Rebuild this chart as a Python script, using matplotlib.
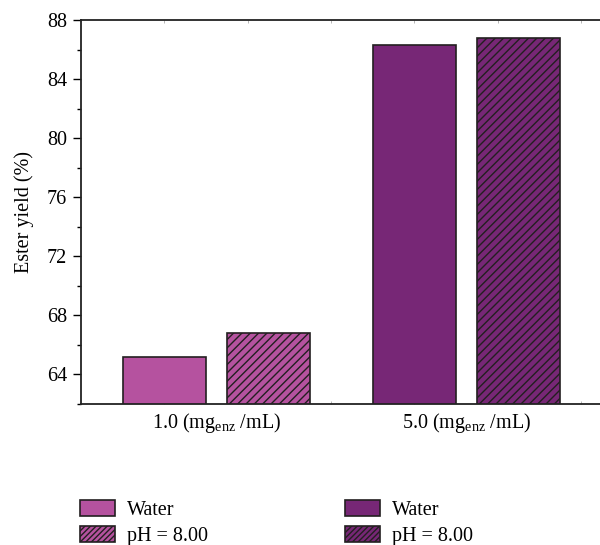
import matplotlib
matplotlib.use("Agg")
import matplotlib.pyplot as plt
from matplotlib.patches import Patch
from matplotlib.ticker import MultipleLocator

plt.rcParams['font.family'] = ['Liberation Serif', 'DejaVu Serif']
plt.rcParams['mathtext.fontset'] = 'custom'
plt.rcParams['mathtext.rm'] = 'Liberation Serif'
plt.rcParams['mathtext.it'] = 'Liberation Serif'
plt.rcParams['hatch.linewidth'] = 1.0

# Data
categories = ["1.0 (mg$_{\\rm enz}$ /mL)", "5.0 (mg$_{\\rm enz}$ /mL)"]
series_labels = ["Water", "pH = 8.00"]
water = [65.2, 86.3]
ph8 = [66.8, 86.8]

light = '#B5529F'
dark = '#772776'
edge = '#231F20'
group_colors = [light, dark]
FS = 14.5

fig = plt.figure(figsize=(6.0, 5.45), dpi=100)
ax = fig.add_axes([81/600, 1 - 404/545, 1 - 81/600, (404-20)/545])

group_centers = [1.625, 4.625]
offset = 0.625
width = 1.0
for i, c in enumerate(group_centers):
    ax.bar(c - offset, water[i], width=width, bottom=0, color=group_colors[i],
           edgecolor=edge, linewidth=1.2, zorder=2)
    ax.bar(c + offset, ph8[i], width=width, bottom=0, color=group_colors[i],
           edgecolor=edge, linewidth=1.2, hatch='////', zorder=2)

ax.set_ylim(62, 88)
ax.set_xlim(0, 6.23)
ax.yaxis.set_minor_locator(MultipleLocator(2))
ax.set_yticks([64, 68, 72, 76, 80, 84, 88])
ax.tick_params(axis='y', which='major', direction='out', length=6, width=1.0,
               labelsize=FS, pad=4)
ax.tick_params(axis='y', which='minor', direction='out', length=3, width=1.0)

ax.set_xticks(group_centers)
ax.set_xticklabels(categories, fontsize=FS)
ax.tick_params(axis='x', which='major', length=0, pad=5)
# faint inward ticks on bottom/top
ax.set_xticks([1, 2, 3, 4, 5, 6], minor=True)
ax.tick_params(axis='x', which='minor', direction='in', length=2, width=0.6,
               color='#aaaaaa', top=True, bottom=True)

for s in ['left', 'bottom', 'top']:
    ax.spines[s].set_linewidth(1.3)
    ax.spines[s].set_color('#222222')
ax.spines['right'].set_visible(False)

ax.set_ylabel("Ester yield (%)", fontsize=FS, labelpad=9)

# Legends (two columns)
h1 = [Patch(facecolor=light, edgecolor=edge, linewidth=1.2, label=series_labels[0]),
      Patch(facecolor=light, edgecolor=edge, linewidth=1.2, hatch='//////', label=series_labels[1])]
h2 = [Patch(facecolor=dark, edgecolor=edge, linewidth=1.2, label=series_labels[0]),
      Patch(facecolor=dark, edgecolor=edge, linewidth=1.2, hatch='//////', label=series_labels[1])]
common = dict(loc='upper left', frameon=False, fontsize=FS, handlelength=1.75,
              handleheight=0.82, handletextpad=0.6, labelspacing=0.3,
              borderpad=0, borderaxespad=0)
fig.legend(handles=h1, bbox_to_anchor=(80/600, 1 - 500/545), **common)
fig.legend(handles=h2, bbox_to_anchor=(345/600, 1 - 500/545), **common)

fig.savefig("out.png", dpi=100)
